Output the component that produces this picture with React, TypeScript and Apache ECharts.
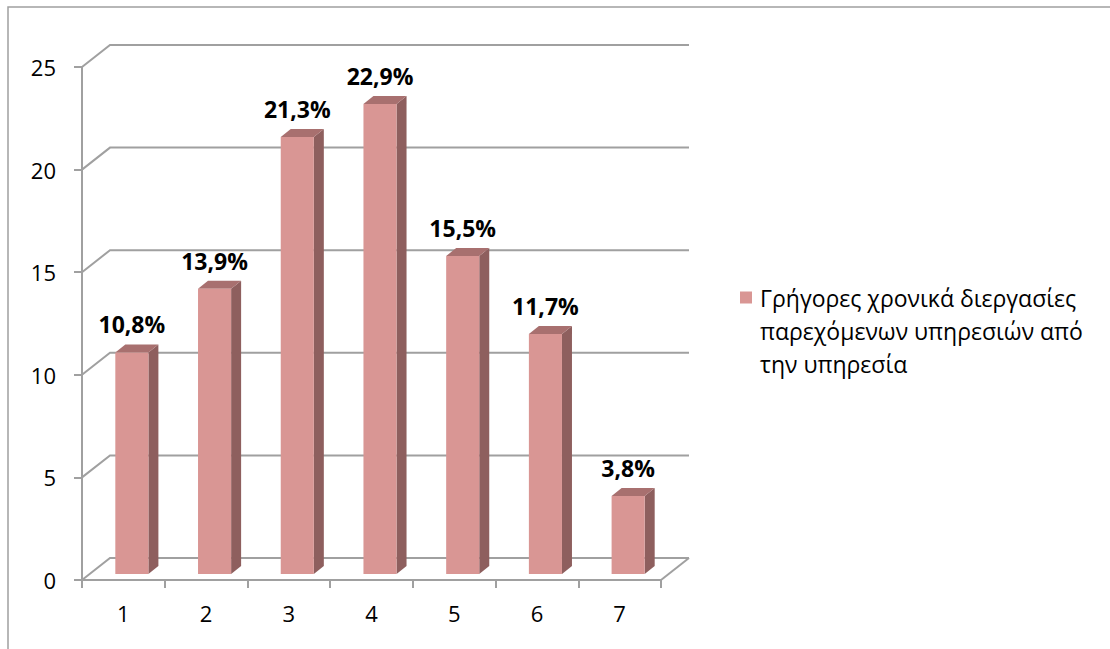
import React, { useEffect, useRef } from "react";
import * as echarts from "echarts";

const categories = ["1", "2", "3", "4", "5", "6", "7"];
const values = [10.8, 13.9, 21.3, 22.9, 15.5, 11.7, 3.8];
const yTicks = [0, 5, 10, 15, 20, 25];
const seriesName = "Γρήγορες χρονικά διεργασίες παρεχόμενων υπηρεσιών από την υπηρεσία";
const legendLines = ["Γρήγορες χρονικά διεργασίες", "παρεχόμενων υπηρεσιών από", "την υπηρεσία"];

const FONT = "Open Sans";
const GRID_COLOR = "#A0A0A0";
const FRONT = "#D99694";
const SIDE = "#8E5F5E";
const TOP = "#A8706F";
// depth of the 3D plot (back wall offset)
const GX = 28;
const GY = -22;
// bar front face offset and bar depth
const OX = 8.5;
const OY = -6;
const DX = 10;
const DY = -8;

export default function App() {
  const ref = useRef<HTMLDivElement>(null);
  useEffect(() => {
    if (!ref.current) return;
    const chart = echarts.init(ref.current, null, { renderer: "svg" });
    const option: any = {
      animation: false,
      backgroundColor: "#ffffff",
      textStyle: { fontFamily: FONT },
      graphic: [
        {
          type: "rect",
          shape: { x: 8, y: 7, width: 1300, height: 900 },
          style: { fill: "none", stroke: "#A0A0A0", lineWidth: 1.5 },
          silent: true,
        },
      ],
      grid: { left: 82, top: 67, width: 579, height: 513 },
      legend: {
        data: [seriesName],
        left: 740,
        top: 215,
        padding: 0,
        itemWidth: 12,
        itemHeight: 12,
        icon: "rect",
        formatter: () => "\n\n" + legendLines.join("\n"),
        textStyle: {
          fontFamily: FONT,
          fontSize: 23,
          color: "#000",
          lineHeight: 33,
          padding: [0, 0, 0, 3],
        },
      },
      xAxis: {
        type: "category",
        data: categories,
        boundaryGap: true,
        axisLine: { show: true, lineStyle: { color: GRID_COLOR, width: 2 } },
        axisTick: { show: true, length: 8, interval: 0, lineStyle: { color: GRID_COLOR, width: 2 } },
        axisLabel: { color: "#000", fontSize: 22, margin: 22, fontFamily: FONT },
        splitLine: { show: false },
      },
      yAxis: {
        type: "value",
        min: 0,
        max: 25,
        interval: 5,
        axisLine: { show: true, lineStyle: { color: GRID_COLOR, width: 2 } },
        axisTick: { show: true, length: 8, lineStyle: { color: GRID_COLOR, width: 2 } },
        axisLabel: { color: "#000", fontSize: 22, margin: 26, fontFamily: FONT },
        splitLine: { show: false },
      },
      series: [
        {
          type: "custom",
          name: "walls",
          silent: true,
          z: 1,
          data: yTicks.map((v) => [0, v]),
          renderItem: (params: any, api: any) => {
            const v = api.value(1);
            const p0 = api.coord([0, v]);
            const p1 = api.coord([categories.length - 1, v]);
            const bw = api.size([1, 0])[0];
            const left = p0[0] - bw / 2;
            const right = p1[0] + bw / 2;
            const y = p0[1];
            const children: any[] = [
              {
                type: "polyline",
                shape: {
                  points: [
                    [left, y],
                    [left + GX, y + GY],
                    [right + GX, y + GY],
                  ],
                },
                style: { stroke: GRID_COLOR, lineWidth: 2, fill: "none" },
              },
            ];
            if (v === 0) {
              children.push({
                type: "line",
                shape: { x1: right, y1: y, x2: right + GX, y2: y + GY },
                style: { stroke: GRID_COLOR, lineWidth: 2 },
              });
            }
            return { type: "group", children };
          },
        },
        {
          type: "custom",
          name: seriesName,
          z: 2,
          itemStyle: { color: FRONT },
          data: values.map((v, i) => [i, v]),
          renderItem: (params: any, api: any) => {
            const i = api.value(0);
            const v = api.value(1);
            const base = api.coord([i, 0]);
            const top = api.coord([i, v]);
            const bw = api.size([1, 0])[0];
            const w = bw * 0.4;
            const x0 = base[0] - w / 2 + OX;
            const x1 = x0 + w;
            const yb = base[1] + OY;
            const yt = top[1] + OY;
            const label = v.toFixed(1).replace(".", ",") + "%";
            return {
              type: "group",
              children: [
                {
                  type: "polygon",
                  shape: { points: [[x1, yt], [x1 + DX, yt + DY], [x1 + DX, yb + DY], [x1, yb]] },
                  style: { fill: SIDE },
                },
                {
                  type: "polygon",
                  shape: { points: [[x0, yt], [x0 + DX, yt + DY], [x1 + DX, yt + DY], [x1, yt]] },
                  style: { fill: TOP },
                },
                {
                  type: "rect",
                  shape: { x: x0, y: yt, width: w, height: yb - yt },
                  style: { fill: FRONT },
                },
                {
                  type: "text",
                  x: x0 + w / 2,
                  y: yt - 28,
                  style: {
                    text: label,
                    fill: "#000",
                    font: `bold 23px "${FONT}"`,
                    align: "center",
                    verticalAlign: "middle",
                  },
                },
              ],
            };
          },
        },
      ],
    };
    chart.setOption(option);
    return () => chart.dispose();
  }, []);
  return (
    <div
      ref={ref}
      style={{ position: "fixed", left: 0, top: 0, width: 1110, height: 649 }}
    />
  );
}
